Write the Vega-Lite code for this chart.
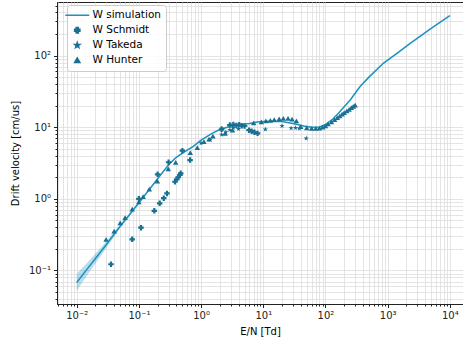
{
  "$schema": "https://vega.github.io/schema/vega-lite/v6.json",
  "width": 406,
  "height": 302,
  "autosize": {"type": "none"},
  "padding": {"left": 57, "top": 2, "right": 0, "bottom": 41},
  "background": "white",
  "datasets": {
    "band": [
      {"x": 0.01, "lo": 0.052, "hi": 0.09},
      {"x": 0.015, "lo": 0.088, "hi": 0.13},
      {"x": 0.02, "lo": 0.125, "hi": 0.172},
      {"x": 0.03, "lo": 0.205, "hi": 0.255},
      {"x": 0.05, "lo": 0.39, "hi": 0.44},
      {"x": 0.07, "lo": 0.57, "hi": 0.62},
      {"x": 0.1, "lo": 0.86, "hi": 0.9}
    ],
    "sim": [
      {"series": "W simulation", "x": 0.01, "y": 0.068},
      {"series": "W simulation", "x": 0.015, "y": 0.107},
      {"series": "W simulation", "x": 0.02, "y": 0.147},
      {"series": "W simulation", "x": 0.03, "y": 0.23},
      {"series": "W simulation", "x": 0.05, "y": 0.415},
      {"series": "W simulation", "x": 0.07, "y": 0.595},
      {"series": "W simulation", "x": 0.1, "y": 0.88},
      {"series": "W simulation", "x": 0.15, "y": 1.38},
      {"series": "W simulation", "x": 0.193, "y": 1.83},
      {"series": "W simulation", "x": 0.25, "y": 2.45},
      {"series": "W simulation", "x": 0.316, "y": 3.13},
      {"series": "W simulation", "x": 0.4, "y": 3.8},
      {"series": "W simulation", "x": 0.5, "y": 4.35},
      {"series": "W simulation", "x": 0.75, "y": 5.4},
      {"series": "W simulation", "x": 1, "y": 6.6},
      {"series": "W simulation", "x": 1.5, "y": 8.2},
      {"series": "W simulation", "x": 2, "y": 9.3},
      {"series": "W simulation", "x": 3, "y": 10.3},
      {"series": "W simulation", "x": 4, "y": 10.8},
      {"series": "W simulation", "x": 6, "y": 11.3},
      {"series": "W simulation", "x": 8, "y": 11.8},
      {"series": "W simulation", "x": 12, "y": 12.1},
      {"series": "W simulation", "x": 20, "y": 12.0},
      {"series": "W simulation", "x": 30, "y": 11.3},
      {"series": "W simulation", "x": 45, "y": 10.4},
      {"series": "W simulation", "x": 60, "y": 10.0},
      {"series": "W simulation", "x": 80, "y": 10.1},
      {"series": "W simulation", "x": 100, "y": 10.9},
      {"series": "W simulation", "x": 130, "y": 12.9},
      {"series": "W simulation", "x": 160, "y": 15.5},
      {"series": "W simulation", "x": 200, "y": 19.3},
      {"series": "W simulation", "x": 250, "y": 24},
      {"series": "W simulation", "x": 360, "y": 37},
      {"series": "W simulation", "x": 500, "y": 50},
      {"series": "W simulation", "x": 850, "y": 78},
      {"series": "W simulation", "x": 1500, "y": 112},
      {"series": "W simulation", "x": 2300, "y": 148},
      {"series": "W simulation", "x": 5000, "y": 240},
      {"series": "W simulation", "x": 10000, "y": 360}
    ],
    "exp": [
      {"series": "W Schmidt", "x": 0.0356, "y": 0.122},
      {"series": "W Schmidt", "x": 0.078, "y": 0.272},
      {"series": "W Schmidt", "x": 0.108, "y": 0.395},
      {"series": "W Schmidt", "x": 0.177, "y": 0.68},
      {"series": "W Schmidt", "x": 0.216, "y": 0.865},
      {"series": "W Schmidt", "x": 0.251, "y": 1.02},
      {"series": "W Schmidt", "x": 0.283, "y": 1.19},
      {"series": "W Schmidt", "x": 0.38, "y": 1.73},
      {"series": "W Schmidt", "x": 0.405, "y": 1.87},
      {"series": "W Schmidt", "x": 0.43, "y": 2.0},
      {"series": "W Schmidt", "x": 0.457, "y": 2.15},
      {"series": "W Schmidt", "x": 0.47, "y": 2.27},
      {"series": "W Schmidt", "x": 0.665, "y": 3.48},
      {"series": "W Schmidt", "x": 0.1, "y": 1.0},
      {"series": "W Schmidt", "x": 0.2, "y": 2.2},
      {"series": "W Schmidt", "x": 0.3, "y": 3.24},
      {"series": "W Schmidt", "x": 0.5, "y": 4.7},
      {"series": "W Schmidt", "x": 2.14, "y": 9.34},
      {"series": "W Schmidt", "x": 2.9, "y": 10.7},
      {"series": "W Schmidt", "x": 3.3, "y": 10.9},
      {"series": "W Schmidt", "x": 3.7, "y": 10.6},
      {"series": "W Schmidt", "x": 4.1, "y": 10.8},
      {"series": "W Schmidt", "x": 4.5, "y": 10.5},
      {"series": "W Schmidt", "x": 5.0, "y": 10.4},
      {"series": "W Schmidt", "x": 5.9, "y": 9.1},
      {"series": "W Schmidt", "x": 6.5, "y": 8.8},
      {"series": "W Schmidt", "x": 7.2, "y": 8.5},
      {"series": "W Schmidt", "x": 8.1, "y": 8.2},
      {"series": "W Takeda", "x": 1.0, "y": 6.0},
      {"series": "W Takeda", "x": 1.4, "y": 6.7},
      {"series": "W Takeda", "x": 2.14, "y": 9.6},
      {"series": "W Takeda", "x": 2.14, "y": 7.9},
      {"series": "W Takeda", "x": 2.5, "y": 8.5},
      {"series": "W Takeda", "x": 2.9, "y": 9.2},
      {"series": "W Takeda", "x": 3.3, "y": 9.8},
      {"series": "W Takeda", "x": 4.0, "y": 9.5},
      {"series": "W Takeda", "x": 10.8, "y": 9.35},
      {"series": "W Takeda", "x": 20, "y": 10.4},
      {"series": "W Takeda", "x": 28, "y": 9.7},
      {"series": "W Takeda", "x": 33, "y": 9.8},
      {"series": "W Takeda", "x": 38, "y": 9.6},
      {"series": "W Takeda", "x": 49, "y": 7.0},
      {"series": "W Hunter", "x": 0.0297, "y": 0.272},
      {"series": "W Hunter", "x": 0.04, "y": 0.355},
      {"series": "W Hunter", "x": 0.05, "y": 0.46},
      {"series": "W Hunter", "x": 0.06, "y": 0.545},
      {"series": "W Hunter", "x": 0.078, "y": 0.72},
      {"series": "W Hunter", "x": 0.1, "y": 0.91},
      {"series": "W Hunter", "x": 0.117, "y": 1.07},
      {"series": "W Hunter", "x": 0.147, "y": 1.37},
      {"series": "W Hunter", "x": 0.198, "y": 1.77},
      {"series": "W Hunter", "x": 0.297, "y": 2.61},
      {"series": "W Hunter", "x": 0.39, "y": 3.24},
      {"series": "W Hunter", "x": 0.67, "y": 4.4},
      {"series": "W Hunter", "x": 0.87, "y": 5.2},
      {"series": "W Hunter", "x": 1.11, "y": 6.3},
      {"series": "W Hunter", "x": 1.34, "y": 6.8},
      {"series": "W Hunter", "x": 1.55, "y": 7.5},
      {"series": "W Hunter", "x": 2.43, "y": 8.2},
      {"series": "W Hunter", "x": 3.2, "y": 9.1},
      {"series": "W Hunter", "x": 7, "y": 11.5},
      {"series": "W Hunter", "x": 9.3, "y": 11.9},
      {"series": "W Hunter", "x": 11, "y": 12.3},
      {"series": "W Hunter", "x": 13, "y": 12.5},
      {"series": "W Hunter", "x": 15, "y": 12.8},
      {"series": "W Hunter", "x": 18, "y": 13.1},
      {"series": "W Hunter", "x": 21, "y": 13.3},
      {"series": "W Hunter", "x": 25, "y": 13.3},
      {"series": "W Hunter", "x": 29, "y": 13.0},
      {"series": "W Hunter", "x": 34, "y": 12.3},
      {"series": "W Hunter", "x": 40, "y": 10.2},
      {"series": "W Hunter", "x": 50, "y": 9.8},
      {"series": "W Hunter", "x": 60, "y": 9.6},
      {"series": "W Hunter", "x": 70, "y": 9.6},
      {"series": "W Hunter", "x": 80, "y": 9.7},
      {"series": "W Hunter", "x": 90, "y": 10.0},
      {"series": "W Hunter", "x": 100, "y": 10.4},
      {"series": "W Hunter", "x": 110, "y": 11.1},
      {"series": "W Hunter", "x": 125, "y": 11.9},
      {"series": "W Hunter", "x": 140, "y": 12.8},
      {"series": "W Hunter", "x": 155, "y": 13.6},
      {"series": "W Hunter", "x": 170, "y": 14.4},
      {"series": "W Hunter", "x": 185, "y": 15.2},
      {"series": "W Hunter", "x": 200, "y": 16.0},
      {"series": "W Hunter", "x": 220, "y": 16.9},
      {"series": "W Hunter", "x": 240, "y": 17.8},
      {"series": "W Hunter", "x": 260, "y": 18.7},
      {"series": "W Hunter", "x": 280, "y": 19.5},
      {"series": "W Hunter", "x": 300, "y": 20.3}
    ]
  },
  "layer": [
    {
      "data": {"name": "band"},
      "mark": {"type": "area", "color": "#1b91bf", "opacity": 0.3},
      "encoding": {
        "x": {"field": "x", "type": "quantitative"},
        "y": {"field": "lo", "type": "quantitative"},
        "y2": {"field": "hi"},
        "color": {"value": "#1b91bf"}
      }
    },
    {
      "data": {"name": "sim"},
      "mark": {"type": "line", "strokeWidth": 1.5},
      "encoding": {
        "x": {"field": "x", "type": "quantitative"},
        "y": {"field": "y", "type": "quantitative"},
        "color": {"field": "series", "type": "nominal"}
      }
    },
    {
      "data": {"name": "exp"},
      "mark": {"type": "point", "filled": true, "opacity": 1, "size": 30},
      "encoding": {
        "x": {"field": "x", "type": "quantitative"},
        "y": {"field": "y", "type": "quantitative"},
        "color": {"field": "series", "type": "nominal"},
        "shape": {
          "field": "series", "type": "nominal",
          "scale": {
            "domain": ["W simulation", "W Schmidt", "W Takeda", "W Hunter"],
            "range": ["stroke", "cross", "M0,-1L0.235,-0.324L0.951,-0.309L0.38,0.124L0.588,0.809L0,0.4L-0.588,0.809L-0.38,0.124L-0.951,-0.309L-0.235,-0.324Z", "triangle-up"]
          }
        }
      }
    }
  ],
  "resolve": {"scale": {"color": "shared"}},
  "encoding": {
    "x": {
      "field": "x", "type": "quantitative",
      "title": "E/N [Td]",
      "scale": {"type": "log", "domain": [0.00482, 16260], "nice": false, "zero": false},
      "axis": {
        "values": [0.005,0.006,0.007,0.008,0.009,0.01,0.02,0.03,0.04,0.05,0.06,0.07,0.08,0.09,0.1,0.2,0.3,0.4,0.5,0.6,0.7,0.8,0.9,1,2,3,4,5,6,7,8,9,10,20,30,40,50,60,70,80,90,100,200,300,400,500,600,700,800,900,1000,2000,3000,4000,5000,6000,7000,8000,9000,10000],
        "labelExpr": "datum.value==0.01?'10⁻²':datum.value==0.1?'10⁻¹':datum.value==1?'10⁰':datum.value==10?'10¹':datum.value==100?'10²':datum.value==1000?'10³':datum.value==10000?'10⁴':''",
        "tickSize": {"condition": {"test": "abs(log(datum.value)/LN10 - round(log(datum.value)/LN10)) < 0.001", "value": 3.5}, "value": 2},
        "labelPadding": 3,
        "titlePadding": 6
      }
    },
    "y": {
      "field": "y", "type": "quantitative",
      "title": "Drift velocity [cm/us]",
      "scale": {"type": "log", "domain": [0.034, 560], "nice": false, "zero": false},
      "axis": {
        "values": [0.04,0.05,0.06,0.07,0.08,0.09,0.1,0.2,0.3,0.4,0.5,0.6,0.7,0.8,0.9,1,2,3,4,5,6,7,8,9,10,20,30,40,50,60,70,80,90,100,200,300,400,500],
        "labelExpr": "datum.value==0.1?'10⁻¹':datum.value==1?'10⁰':datum.value==10?'10¹':datum.value==100?'10²':''",
        "tickSize": {"condition": {"test": "abs(log(datum.value)/LN10 - round(log(datum.value)/LN10)) < 0.001", "value": 3.5}, "value": 2},
        "labelPadding": 3,
        "titlePadding": 8
      }
    },
    "color": {
      "field": "series", "type": "nominal",
      "scale": {
        "domain": ["W simulation", "W Schmidt", "W Takeda", "W Hunter"],
        "range": ["#1b91bf", "#1a7090", "#1a7090", "#1a7090"]
      },
      "legend": {
        "title": null,
        "orient": "none",
        "legendX": 10,
        "legendY": 3,
        "padding": 5,
        "fillColor": "rgba(255,255,255,0.85)",
        "strokeColor": "#cccccc",
        "cornerRadius": 3,
        "labelFontSize": 10.5,
        "labelColor": "#000000",
        "labelOffset": 10,
        "rowPadding": 3,
        "encode": {
          "symbols": {
            "update": {
              "stroke": {"signal": "datum.value === 'W simulation' ? '#1b91bf' : 'transparent'"},
              "strokeWidth": {"value": 1.5},
              "size": {"signal": "datum.value === 'W simulation' ? 576 : 28"},
              "opacity": {"value": 1}
            }
          }
        }
      }
    }
  },
  "config": {
    "font": "DejaVu Sans",
    "view": {"stroke": "#222222", "strokeWidth": 1},
    "axis": {
      "gridColor": "#dddddd",
      "gridWidth": 0.8,
      "domainColor": "#222222",
      "tickColor": "#222222",
      "labelColor": "#222222",
      "labelFontSize": 10,
      "labelOverlap": false,
      "labelFlush": false,
      "titleFontSize": 10,
      "titleFontWeight": "normal",
      "titleColor": "#000000"
    }
  }
}
